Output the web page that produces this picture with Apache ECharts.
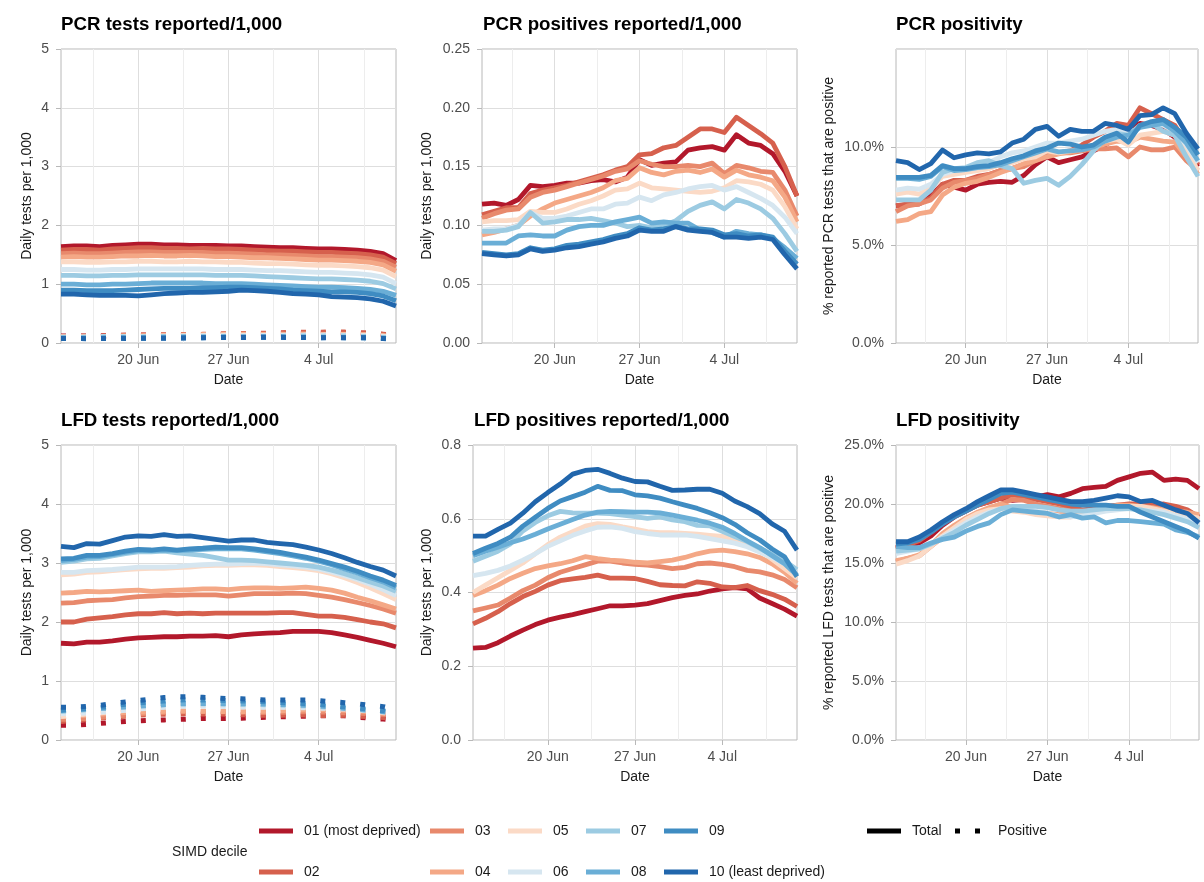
<!DOCTYPE html>
<html>
<head>
<meta charset="utf-8">
<script src="https://cdn.jsdelivr.net/npm/echarts@6/dist/echarts.min.js"></script>
<style>
  html, body { margin: 0; padding: 0; background: #ffffff; }
  #chart { width: 1204px; height: 882px; }
</style>
</head>
<body>
<div id="chart"></div>
<script>
// Reporting dates (one value per day)
const dates = ['14 Jun','15 Jun','16 Jun','17 Jun','18 Jun','19 Jun','20 Jun','21 Jun','22 Jun','23 Jun',
  '24 Jun','25 Jun','26 Jun','27 Jun','28 Jun','29 Jun','30 Jun','1 Jul','2 Jul','3 Jul',
  '4 Jul','5 Jul','6 Jul','7 Jul','8 Jul','9 Jul','10 Jul'];
const tickLabels = ['20 Jun', '27 Jun', '4 Jul'];

const deciles = ['01 (most deprived)', '02', '03', '04', '05', '06', '07', '08', '09', '10 (least deprived)'];
const decileColors = ['#b2182b', '#d6604d', '#e8896c', '#f4a886', '#fbdac6',
  '#d6e6f0', '#9ccbe2', '#6aaed6', '#3f8cc2', '#2166ac'];

// PCR tests reported per 1,000 (rows: decile 01 .. 10)
const pcrTests = [
  [1.64,1.65,1.65,1.64,1.66,1.67,1.68,1.68,1.67,1.67,1.66,1.66,1.66,1.65,1.65,1.64,1.63,1.62,1.62,1.61,1.60,1.60,1.59,1.58,1.56,1.52,1.40],
  [1.58,1.59,1.59,1.58,1.60,1.61,1.62,1.62,1.61,1.61,1.60,1.61,1.60,1.60,1.59,1.58,1.57,1.56,1.56,1.55,1.54,1.54,1.53,1.52,1.50,1.46,1.35],
  [1.52,1.53,1.52,1.52,1.53,1.54,1.55,1.55,1.54,1.54,1.54,1.54,1.53,1.53,1.52,1.51,1.50,1.50,1.49,1.48,1.47,1.47,1.46,1.45,1.43,1.39,1.29],
  [1.46,1.47,1.46,1.46,1.47,1.48,1.48,1.49,1.48,1.48,1.49,1.48,1.47,1.47,1.46,1.45,1.45,1.44,1.43,1.42,1.41,1.41,1.40,1.39,1.37,1.33,1.22],
  [1.38,1.38,1.37,1.37,1.38,1.38,1.39,1.39,1.38,1.38,1.39,1.38,1.38,1.37,1.37,1.36,1.35,1.35,1.34,1.33,1.32,1.32,1.31,1.30,1.28,1.24,1.13],
  [1.25,1.25,1.24,1.24,1.25,1.25,1.26,1.26,1.26,1.26,1.26,1.26,1.25,1.25,1.25,1.24,1.23,1.23,1.22,1.21,1.20,1.20,1.19,1.18,1.16,1.12,1.01],
  [1.15,1.15,1.14,1.14,1.15,1.15,1.16,1.16,1.16,1.16,1.16,1.16,1.15,1.15,1.15,1.14,1.13,1.12,1.11,1.10,1.09,1.09,1.08,1.07,1.05,1.01,0.92],
  [1.00,1.00,0.99,0.99,1.00,1.00,1.01,1.02,1.02,1.02,1.02,1.02,1.01,1.01,1.01,1.00,0.99,0.98,0.97,0.96,0.95,0.95,0.94,0.93,0.91,0.88,0.81],
  [0.90,0.90,0.89,0.89,0.89,0.90,0.91,0.92,0.93,0.93,0.93,0.94,0.94,0.95,0.95,0.94,0.93,0.92,0.90,0.89,0.88,0.87,0.87,0.86,0.84,0.80,0.72],
  [0.83,0.83,0.82,0.81,0.81,0.81,0.80,0.82,0.84,0.85,0.86,0.86,0.87,0.88,0.90,0.89,0.88,0.86,0.84,0.83,0.82,0.79,0.78,0.77,0.75,0.71,0.63]
];

// PCR positives reported per 1,000
const pcrPositives = [
  [0.118,0.119,0.117,0.122,0.134,0.133,0.134,0.136,0.136,0.138,0.139,0.137,0.141,0.156,0.151,0.153,0.154,0.164,0.166,0.167,0.164,0.177,0.170,0.168,0.161,0.146,0.125],
  [0.109,0.112,0.115,0.115,0.127,0.130,0.132,0.134,0.137,0.140,0.143,0.147,0.150,0.160,0.161,0.166,0.168,0.175,0.182,0.182,0.179,0.192,0.185,0.178,0.170,0.150,0.125],
  [0.106,0.110,0.113,0.114,0.124,0.128,0.130,0.133,0.136,0.139,0.142,0.146,0.148,0.155,0.152,0.150,0.150,0.151,0.150,0.153,0.144,0.151,0.149,0.146,0.145,0.130,0.108],
  [0.092,0.094,0.097,0.100,0.108,0.114,0.119,0.122,0.125,0.128,0.132,0.138,0.140,0.149,0.145,0.143,0.146,0.147,0.145,0.148,0.141,0.147,0.143,0.141,0.138,0.124,0.103],
  [0.103,0.104,0.104,0.105,0.112,0.111,0.111,0.114,0.118,0.121,0.125,0.130,0.131,0.136,0.132,0.131,0.130,0.129,0.128,0.129,0.132,0.138,0.137,0.135,0.130,0.116,0.097],
  [0.096,0.097,0.097,0.100,0.111,0.106,0.106,0.108,0.111,0.114,0.114,0.118,0.119,0.124,0.121,0.126,0.128,0.131,0.133,0.134,0.130,0.133,0.128,0.123,0.117,0.107,0.093],
  [0.095,0.095,0.096,0.099,0.111,0.102,0.103,0.105,0.105,0.106,0.104,0.102,0.099,0.100,0.098,0.100,0.104,0.112,0.117,0.120,0.114,0.122,0.119,0.114,0.106,0.093,0.078],
  [0.085,0.085,0.085,0.091,0.092,0.091,0.091,0.096,0.099,0.100,0.100,0.103,0.105,0.107,0.102,0.103,0.102,0.102,0.096,0.094,0.090,0.095,0.093,0.092,0.089,0.081,0.072],
  [0.077,0.076,0.075,0.076,0.081,0.079,0.080,0.083,0.084,0.086,0.088,0.091,0.093,0.098,0.096,0.097,0.099,0.097,0.097,0.096,0.092,0.093,0.091,0.092,0.090,0.078,0.067],
  [0.076,0.075,0.074,0.075,0.080,0.078,0.079,0.081,0.082,0.084,0.086,0.089,0.091,0.096,0.095,0.095,0.099,0.096,0.095,0.094,0.090,0.090,0.089,0.090,0.088,0.075,0.063]
];

// PCR positivity (%)
const pcrPositivity = [
  [7.0,7.05,7.1,7.5,8.1,7.95,7.8,8.1,8.2,8.25,8.2,8.55,9.1,9.5,9.2,9.35,9.5,9.8,10.1,10.5,11.0,11.2,11.1,10.9,10.5,9.8,9.0],
  [7.0,7.1,7.1,7.4,8.1,8.3,8.3,8.5,8.6,8.8,8.9,9.1,9.4,9.7,9.7,9.8,10.1,10.5,10.8,11.2,11.1,12.0,11.7,11.4,11.1,10.2,9.1],
  [6.7,7.0,7.1,7.3,7.9,8.2,8.3,8.4,8.6,8.8,8.9,9.0,9.3,9.6,9.7,9.7,9.8,9.9,9.9,9.95,9.5,10.0,9.85,9.85,10.0,9.3,8.8],
  [6.2,6.3,6.6,6.7,7.55,7.95,8.15,8.25,8.45,8.7,8.9,9.15,9.3,9.5,9.65,9.75,9.85,10.0,10.15,10.3,10.25,10.5,10.4,10.3,10.25,9.5,8.6],
  [7.6,7.7,7.6,7.9,8.5,8.6,8.7,8.8,8.9,9.1,9.2,9.4,9.5,9.8,9.7,9.8,9.9,10.1,10.3,10.4,10.1,10.6,10.7,10.8,10.6,9.8,8.8],
  [7.8,7.9,7.85,8.1,8.6,8.8,8.85,8.95,9.2,9.5,9.7,9.8,10.0,10.2,10.2,10.3,10.4,10.6,10.8,10.9,10.7,11.0,11.2,11.1,10.8,10.1,9.2],
  [7.3,7.3,7.3,7.8,8.7,8.9,8.95,9.2,9.3,9.05,8.9,8.15,8.3,8.4,8.05,8.5,9.1,9.8,10.4,10.7,10.6,11.1,11.2,10.8,10.6,9.5,8.5],
  [8.4,8.4,8.35,8.5,9.0,8.8,8.85,8.95,9.0,9.1,9.3,9.5,9.7,9.9,9.75,9.8,9.85,10.0,10.3,10.5,10.6,11.0,11.1,11.2,10.8,10.2,9.3],
  [8.45,8.45,8.45,8.55,9.05,8.9,8.9,9.0,9.05,9.2,9.4,9.55,9.8,9.95,10.2,10.15,10.0,10.1,10.5,10.7,10.25,11.1,11.3,11.4,11.0,10.5,9.6],
  [9.3,9.2,8.85,9.15,9.85,9.45,9.6,9.7,9.65,9.75,10.2,10.4,10.9,11.05,10.55,10.9,10.8,10.8,11.2,11.1,10.9,11.6,11.65,12.0,11.7,10.7,9.9]
];

// LFD tests reported per 1,000
const lfdTests = [
  [1.64,1.63,1.66,1.66,1.68,1.71,1.73,1.74,1.75,1.75,1.76,1.76,1.77,1.75,1.78,1.80,1.81,1.82,1.84,1.84,1.84,1.82,1.78,1.74,1.69,1.64,1.58],
  [2.00,2.00,2.05,2.07,2.09,2.12,2.14,2.14,2.16,2.14,2.15,2.14,2.15,2.15,2.15,2.15,2.15,2.16,2.16,2.13,2.10,2.10,2.08,2.04,2.00,1.97,1.90],
  [2.32,2.33,2.36,2.37,2.38,2.41,2.43,2.44,2.45,2.45,2.46,2.46,2.46,2.44,2.46,2.48,2.48,2.48,2.49,2.48,2.45,2.42,2.38,2.33,2.28,2.22,2.15],
  [2.49,2.50,2.52,2.51,2.52,2.53,2.54,2.52,2.53,2.54,2.55,2.56,2.56,2.55,2.57,2.58,2.58,2.57,2.58,2.59,2.57,2.54,2.49,2.42,2.36,2.29,2.22],
  [2.80,2.81,2.84,2.85,2.87,2.89,2.90,2.91,2.91,2.92,2.93,2.95,2.96,2.96,2.97,2.97,2.96,2.94,2.92,2.90,2.87,2.82,2.75,2.67,2.58,2.48,2.38],
  [2.84,2.84,2.87,2.88,2.89,2.91,2.93,2.93,2.93,2.94,2.96,2.97,2.98,2.98,2.99,3.00,2.99,2.97,2.95,2.93,2.90,2.85,2.79,2.72,2.64,2.55,2.45],
  [3.01,3.03,3.07,3.08,3.12,3.16,3.19,3.19,3.20,3.17,3.15,3.13,3.09,3.05,3.05,3.04,3.02,3.00,2.98,2.96,2.93,2.88,2.82,2.75,2.68,2.61,2.52],
  [3.04,3.06,3.10,3.11,3.14,3.18,3.21,3.21,3.22,3.21,3.22,3.23,3.24,3.24,3.24,3.22,3.19,3.16,3.12,3.08,3.03,2.97,2.90,2.83,2.75,2.68,2.58],
  [3.07,3.08,3.13,3.13,3.16,3.20,3.23,3.22,3.24,3.22,3.24,3.25,3.27,3.26,3.26,3.24,3.21,3.18,3.14,3.10,3.05,2.99,2.93,2.86,2.78,2.71,2.62],
  [3.28,3.26,3.33,3.32,3.38,3.44,3.46,3.45,3.48,3.45,3.46,3.43,3.40,3.37,3.39,3.39,3.35,3.33,3.31,3.27,3.22,3.16,3.09,3.01,2.94,2.88,2.78]
];

// LFD positives reported per 1,000
const lfdPositives = [
  [0.249,0.251,0.264,0.282,0.298,0.313,0.325,0.333,0.340,0.348,0.356,0.364,0.364,0.366,0.370,0.378,0.386,0.392,0.396,0.404,0.410,0.413,0.410,0.385,0.370,0.355,0.336],
  [0.315,0.330,0.348,0.370,0.389,0.403,0.420,0.432,0.437,0.441,0.447,0.439,0.439,0.438,0.430,0.421,0.419,0.418,0.429,0.425,0.415,0.413,0.419,0.405,0.395,0.382,0.362],
  [0.350,0.358,0.366,0.385,0.405,0.420,0.440,0.455,0.465,0.475,0.485,0.485,0.480,0.476,0.474,0.470,0.465,0.468,0.478,0.480,0.476,0.470,0.460,0.456,0.448,0.435,0.413],
  [0.392,0.405,0.420,0.438,0.452,0.465,0.472,0.478,0.486,0.497,0.492,0.488,0.486,0.482,0.480,0.484,0.488,0.495,0.505,0.512,0.515,0.511,0.505,0.495,0.478,0.455,0.425],
  [0.400,0.420,0.440,0.460,0.480,0.505,0.530,0.550,0.565,0.580,0.587,0.585,0.578,0.572,0.565,0.562,0.562,0.560,0.558,0.555,0.552,0.545,0.535,0.515,0.490,0.465,0.440],
  [0.446,0.452,0.460,0.472,0.488,0.505,0.525,0.540,0.555,0.567,0.577,0.578,0.574,0.565,0.560,0.556,0.556,0.556,0.552,0.546,0.540,0.534,0.524,0.510,0.495,0.478,0.458],
  [0.485,0.498,0.512,0.532,0.567,0.590,0.608,0.620,0.616,0.615,0.615,0.614,0.610,0.606,0.601,0.605,0.597,0.592,0.582,0.581,0.566,0.552,0.538,0.520,0.503,0.486,0.462],
  [0.500,0.512,0.523,0.535,0.545,0.558,0.572,0.585,0.598,0.610,0.618,0.620,0.619,0.618,0.618,0.616,0.610,0.603,0.596,0.588,0.577,0.560,0.540,0.522,0.500,0.478,0.447],
  [0.506,0.520,0.533,0.550,0.580,0.604,0.628,0.648,0.660,0.672,0.688,0.677,0.676,0.665,0.662,0.656,0.646,0.637,0.628,0.616,0.603,0.585,0.562,0.543,0.518,0.497,0.443],
  [0.553,0.553,0.571,0.588,0.615,0.646,0.671,0.694,0.721,0.731,0.734,0.723,0.710,0.701,0.700,0.688,0.677,0.678,0.680,0.680,0.669,0.648,0.633,0.614,0.586,0.566,0.515]
];

// LFD positivity (%)
const lfdPositivity = [
  [16.3,16.5,16.7,17.3,18.2,18.9,19.4,19.9,20.2,20.5,20.3,20.4,20.6,20.8,20.6,20.9,21.3,21.4,21.5,22.0,22.3,22.6,22.7,22.0,22.1,22.0,21.3],
  [16.2,16.5,16.9,17.6,18.4,19.0,19.5,19.9,20.2,20.5,20.8,20.6,20.4,20.2,20.0,19.7,19.5,19.6,19.8,19.9,20.0,20.0,19.9,20.0,19.8,19.5,18.9],
  [15.1,15.4,15.6,16.4,17.2,18.0,18.7,19.2,19.6,20.0,20.4,20.3,20.0,19.8,19.6,19.4,19.4,19.3,19.5,19.7,19.8,19.7,19.6,19.5,19.4,19.2,19.0],
  [15.2,15.4,15.7,16.5,17.5,18.2,18.8,19.3,19.7,20.0,19.7,19.5,19.3,19.2,19.1,19.2,19.3,19.5,19.7,19.9,19.9,19.8,19.7,19.5,19.4,19.3,19.1],
  [14.9,15.2,15.6,16.4,17.3,18.0,18.7,19.2,19.5,19.6,19.4,19.3,19.1,19.0,18.9,18.9,19.1,19.3,19.5,19.7,19.8,19.8,19.6,19.4,19.2,19.0,18.8],
  [15.8,16.0,16.2,16.6,17.2,17.8,18.4,18.9,19.3,19.6,19.7,19.6,19.4,19.2,19.0,18.9,19.0,19.2,19.4,19.5,19.6,19.5,19.4,19.3,19.0,18.7,18.3],
  [16.0,16.1,16.2,16.6,17.1,17.6,18.2,18.7,19.2,19.6,19.8,19.8,19.8,19.7,19.5,19.4,19.4,19.5,19.6,19.6,19.6,19.5,19.3,19.1,18.8,18.5,18.0],
  [16.4,16.3,16.3,16.7,17.0,17.2,17.7,18.1,18.4,19.1,19.5,19.4,19.3,19.2,18.9,19.1,18.8,18.9,18.4,18.6,18.6,18.5,18.4,18.3,17.8,17.6,17.2],
  [16.6,16.7,17.0,17.6,18.3,18.9,19.4,19.9,20.4,20.9,21.0,20.8,20.6,20.4,20.2,20.0,19.9,19.9,19.9,19.8,19.8,19.3,18.9,18.5,18.1,17.7,17.1],
  [16.8,16.8,17.2,17.8,18.5,19.1,19.6,20.2,20.7,21.2,21.2,21.0,20.8,20.6,20.4,20.2,20.2,20.3,20.5,20.7,20.6,20.2,20.3,19.9,19.5,19.2,18.4]
];

const FONT = "'Liberation Sans', Arial, Helvetica, sans-serif";
const GRID_MAJOR = '#dedede';
const GRID_MINOR = '#ededed';
const BORDER = '#b8b8b8';
const TICK_TEXT = '#4d4d4d';
const LINE_W = 4.8;

const tickIdx = tickLabels.map(l => dates.indexOf(l));
const minorIdx = [tickIdx[0] - 3.5].concat(tickIdx.map(t => t + 3.5));

const panels = [
  { title: 'PCR tests reported/1,000', total: pcrTests, positive: pcrPositives,
    max: 5, step: 1, fmt: v => String(Math.round(v)), yName: 'Daily tests per 1,000', nameGap: 27,
    grid: { left: 61, top: 49, width: 335, height: 294 }, tx: 61, ty: 25 },
  { title: 'PCR positives reported/1,000', total: pcrPositives,
    max: 0.25, step: 0.05, fmt: v => v.toFixed(2), yName: 'Daily tests per 1,000', nameGap: 48,
    grid: { left: 482, top: 49, width: 315, height: 294 }, tx: 483, ty: 25 },
  { title: 'PCR positivity', total: pcrPositivity,
    max: 15, step: 5, fmt: v => v.toFixed(1) + '%', hideMax: true,
    yName: '% reported PCR tests that are positive', nameGap: 60,
    grid: { left: 896, top: 49, width: 302, height: 294 }, tx: 896, ty: 25 },
  { title: 'LFD tests reported/1,000', total: lfdTests, positive: lfdPositives,
    max: 5, step: 1, fmt: v => String(Math.round(v)), yName: 'Daily tests per 1,000', nameGap: 27,
    grid: { left: 61, top: 445, width: 335, height: 295 }, tx: 61, ty: 421 },
  { title: 'LFD positives reported/1,000', total: lfdPositives,
    max: 0.8, step: 0.2, fmt: v => v.toFixed(1), yName: 'Daily tests per 1,000', nameGap: 39,
    grid: { left: 473, top: 445, width: 324, height: 295 }, tx: 474, ty: 421 },
  { title: 'LFD positivity', total: lfdPositivity,
    max: 25, step: 5, fmt: v => v.toFixed(1) + '%',
    yName: '% reported LFD tests that are positive', nameGap: 60,
    grid: { left: 896, top: 445, width: 303, height: 295 }, tx: 896, ty: 421 }
];

const grids = [], xAxes = [], yAxes = [], series = [], graphics = [];

panels.forEach((p, k) => {
  grids.push(Object.assign({ show: true, borderColor: BORDER, borderWidth: 1, backgroundColor: '#ffffff' }, p.grid));

  // main date axis: labelled weekly ticks and major vertical grid lines
  xAxes.push({
    type: 'value', gridIndex: k, min: 0, max: dates.length - 1,
    axisLine: { show: false },
    axisTick: { show: true, length: 5, lineStyle: { color: BORDER }, customValues: tickIdx },
    axisLabel: { customValues: tickIdx, formatter: v => dates[Math.round(v)],
      fontSize: 14, color: TICK_TEXT, margin: 10, fontFamily: FONT },
    splitLine: { show: true, lineStyle: { color: GRID_MAJOR, width: 1 } },
    name: 'Date', nameLocation: 'middle', nameGap: 30,
    nameTextStyle: { fontSize: 14, color: '#1a1a1a', fontFamily: FONT }
  });
  // companion axis carrying the mid-week minor grid lines
  xAxes.push({
    type: 'value', gridIndex: k, min: 0, max: dates.length - 1, position: 'top',
    axisLine: { show: false },
    axisTick: { show: false, customValues: minorIdx },
    axisLabel: { show: false },
    splitLine: { show: true, lineStyle: { color: GRID_MINOR, width: 1 } }
  });

  yAxes.push({
    type: 'value', gridIndex: k, min: 0, max: p.max, interval: p.step,
    axisLine: { show: false },
    axisTick: { show: true, length: 5, lineStyle: { color: BORDER } },
    axisLabel: { fontSize: 14, color: TICK_TEXT, margin: 12, fontFamily: FONT,
      formatter: p.fmt, showMaxLabel: !p.hideMax },
    splitLine: { show: true, lineStyle: { color: GRID_MAJOR, width: 1 } },
    name: p.yName, nameLocation: 'middle', nameRotate: 90, nameGap: p.nameGap,
    nameTextStyle: { fontSize: 14, color: '#1a1a1a', fontFamily: FONT }
  });

  const addLines = (rows, dotted) => {
    rows.forEach((vals, d) => {
      series.push({
        type: 'line', name: deciles[d], xAxisIndex: k * 2, yAxisIndex: k,
        data: vals.map((v, i) => [i, v]),
        symbol: 'none', showSymbol: false, silent: true,
        color: decileColors[d],
        lineStyle: dotted
          ? { width: 5, color: decileColors[d], type: [5, 15], dashOffset: 0, cap: 'butt', join: 'miter' }
          : { width: LINE_W, color: decileColors[d], cap: 'butt', join: 'round' },
        emphasis: { disabled: true }
      });
    });
  };
  addLines(p.total, false);
  if (p.positive) addLines(p.positive, true);

  graphics.push({
    type: 'text', x: p.tx, y: p.ty,
    style: { text: p.title, fontSize: 18.7, fontWeight: 'bold', fill: '#000000',
      fontFamily: FONT, align: 'left', verticalAlign: 'middle' }
  });
});

// Legend: SIMD decile colour keys (five columns, two rows) and line-type keys
const legendRowsY = [831, 872];
const legendKeyX = [259, 430, 508, 586, 664];
const KEY_W = 34, LABEL_DX = 45;
graphics.push({
  type: 'text', x: 172, y: 852,
  style: { text: 'SIMD decile', fontSize: 14, fill: '#1a1a1a', fontFamily: FONT, verticalAlign: 'middle' }
});
deciles.forEach((name, d) => {
  const kx = legendKeyX[Math.floor(d / 2)];
  const y = legendRowsY[d % 2];
  graphics.push({ type: 'rect', shape: { x: kx, y: y - 2.5, width: KEY_W, height: 5 },
    style: { fill: decileColors[d] } });
  graphics.push({ type: 'text', x: kx + LABEL_DX, y: y,
    style: { text: name, fontSize: 14, fill: '#1a1a1a', fontFamily: FONT, verticalAlign: 'middle' } });
});
const totalKeyX = 867, positiveKeyX = 953;
graphics.push({ type: 'rect', shape: { x: totalKeyX, y: 831 - 2.5, width: KEY_W, height: 5 }, style: { fill: '#000000' } });
graphics.push({ type: 'text', x: totalKeyX + LABEL_DX, y: 831,
  style: { text: 'Total', fontSize: 14, fill: '#1a1a1a', fontFamily: FONT, verticalAlign: 'middle' } });
[0, 20].forEach(dx => {
  graphics.push({ type: 'rect', shape: { x: positiveKeyX + 2 + dx, y: 831 - 2.5, width: 5, height: 5 },
    style: { fill: '#000000' } });
});
graphics.push({ type: 'text', x: positiveKeyX + LABEL_DX, y: 831,
  style: { text: 'Positive', fontSize: 14, fill: '#1a1a1a', fontFamily: FONT, verticalAlign: 'middle' } });

const chart = echarts.init(document.getElementById('chart'), null, { renderer: 'canvas' });
chart.setOption({
  animation: false,
  backgroundColor: '#ffffff',
  textStyle: { fontFamily: FONT },
  grid: grids,
  xAxis: xAxes,
  yAxis: yAxes,
  series: series,
  graphic: graphics
});
</script>
</body>
</html>
